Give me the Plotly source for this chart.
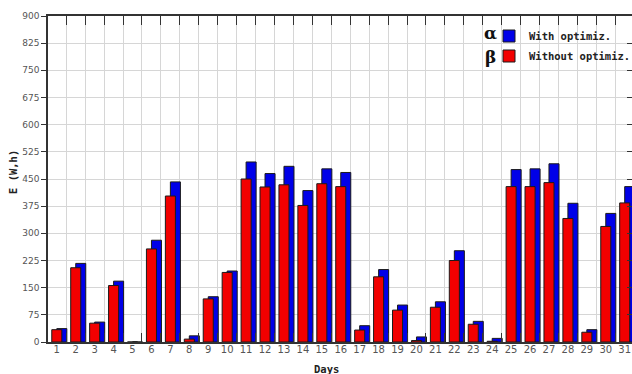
import plotly.graph_objects as go

days = list(range(1, 32))
day_labels = [str(d) for d in days]
with_optim = [37, 217, 55, 168, 0, 281, 442, 17, 125, 196, 497, 465, 485, 418, 478, 468,
              45, 200, 102, 14, 111, 252, 57, 10, 476, 478, 492, 383, 34, 355, 429]
without_optim = [34, 205, 52, 156, 0, 257, 403, 8, 119, 192, 450, 428, 434, 377, 437, 429,
                 33, 180, 88, 4, 96, 225, 49, 2, 429, 429, 440, 341, 27, 319, 384]
y_ticks = list(range(0, 901, 75))
boundaries = [d + 0.5 for d in range(0, 32)]

BLUE = "#0000e8"
RED = "#f20000"
W = 0.53

PX = 18.93
x0 = 1 - (56.8 - 48) / PX
xr = [x0, x0 + 584 / PX]

fig = go.Figure()
fig.add_trace(go.Bar(x=days, y=with_optim, name="<b>With optimiz.</b>", marker=dict(color=BLUE, line=dict(color="#1a1a1a", width=1)),
                     width=W, offset=0.0, legendgroup="a"))
fig.add_trace(go.Bar(x=days, y=without_optim, name="<b>Without optimiz.</b>", marker=dict(color=RED, line=dict(color="#1a1a1a", width=1)),
                     width=W, offset=-W / 2, legendgroup="b"))
fig.add_trace(go.Scatter(x=[None], y=[None], xaxis="x2", yaxis="y2", showlegend=False, hoverinfo="skip"))

fig.update_layout(
    width=632, height=374,
    margin=dict(l=48, r=0, t=16, b=32, autoexpand=False),
    paper_bgcolor="white", plot_bgcolor="white",
    barmode="overlay",
    showlegend=True,
    legend=dict(x=(489 - 48) / 584, y=1 - (21.5 - 16) / 326, xanchor="left", yanchor="top",
                bgcolor="rgba(0,0,0,0)", font=dict(family="DejaVu Sans Mono", size=10.5, color="#222"),
                tracegroupgap=1),
    xaxis=dict(range=xr, tickmode="array", tickvals=boundaries, showticklabels=False,
               ticks="inside", ticklen=9, tickcolor="#333", showgrid=True, gridcolor="#d6d6d6",
               showline=True, linecolor="#333", linewidth=1.5, mirror="ticks", zeroline=False),
    xaxis2=dict(range=xr, overlaying="x", anchor="y", side="bottom", tickmode="array", tickvals=days,
                ticktext=day_labels, ticks="", showgrid=False, showline=False, zeroline=False,
                ticklabeloverflow="allow",
                tickfont=dict(family="DejaVu Sans", size=10, color="#555")),
    yaxis=dict(range=[0, 900], tickmode="array", tickvals=y_ticks, ticks="outside", ticklen=5,
               tickcolor="#333", showgrid=True, gridcolor="#d6d6d6", showline=True, linecolor="#333",
               linewidth=1.5, zeroline=False, tickfont=dict(family="DejaVu Sans", size=9, color="#555")),
    yaxis2=dict(range=[0, 900], overlaying="y", anchor="x", side="right", tickmode="array", tickvals=y_ticks,
                ticks="inside", ticklen=5, tickcolor="#333", showticklabels=False, showgrid=False,
                showline=False, zeroline=False),
    annotations=[
        dict(text="<b>E (W,h)</b>", xref="paper", yref="paper", x=(13 - 48) / 584, y=(342 - 172) / 326,
             textangle=-90, showarrow=False, font=dict(family="DejaVu Sans Mono", size=10.5, color="#222"),
             xanchor="center", yanchor="middle"),
        dict(text="<b>Days</b>", xref="paper", yref="paper", x=(326 - 48) / 584, y=(342 - 369) / 326,
             showarrow=False, font=dict(family="DejaVu Sans Mono", size=10.5, color="#222"),
             xanchor="center", yanchor="middle"),
        dict(text="<b>α</b>", xref="paper", yref="paper", x=(490 - 48) / 584, y=(342 - 33) / 326,
             showarrow=False, font=dict(family="DejaVu Serif", size=17, color="#111"),
             xanchor="center", yanchor="middle"),
        dict(text="<b>β</b>", xref="paper", yref="paper", x=(490 - 48) / 584, y=(342 - 57) / 326,
             showarrow=False, font=dict(family="DejaVu Serif", size=17, color="#111"),
             xanchor="center", yanchor="middle"),
    ],
)

fig.write_html("out.html", config={"displayModeBar": False},
               post_script="document.body.style.margin='0';document.body.style.overflow='hidden';")
